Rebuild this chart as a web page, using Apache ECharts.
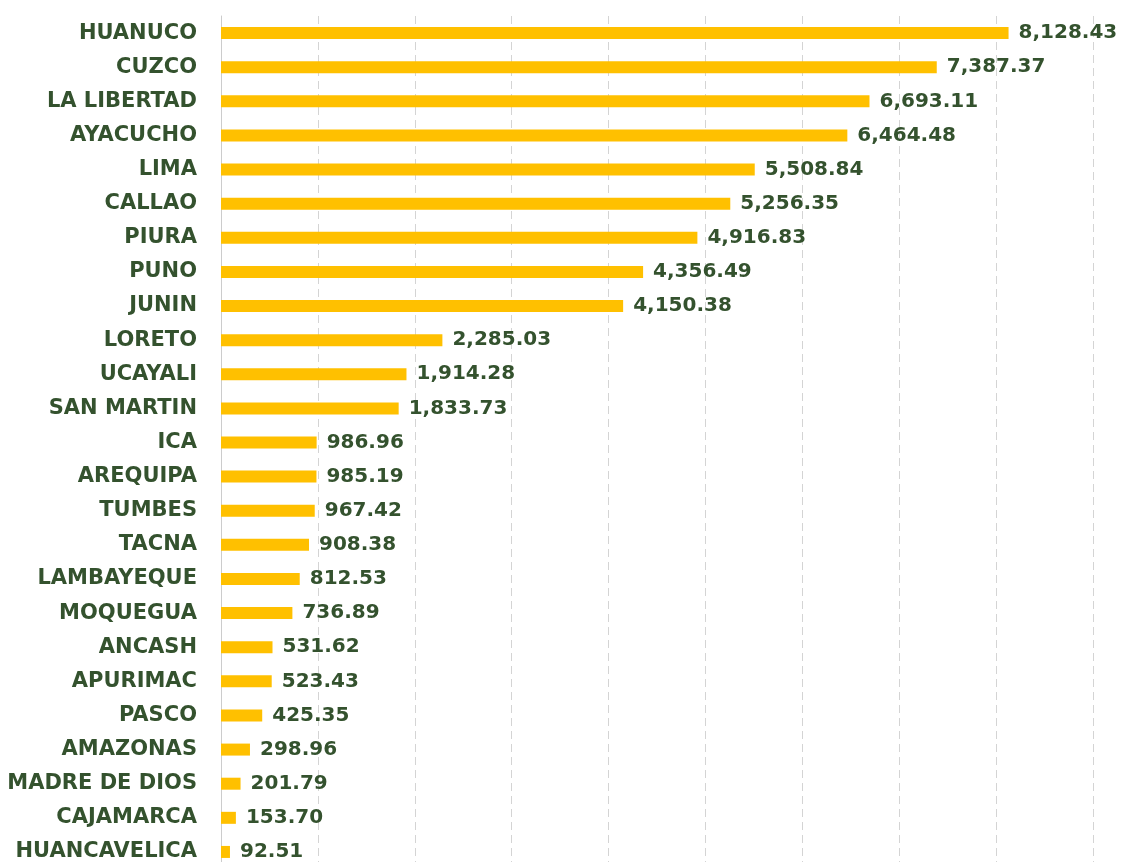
<!DOCTYPE html>
<html>
<head>
<meta charset="utf-8">
<script src="https://cdn.jsdelivr.net/npm/echarts@6/dist/echarts.min.js"></script>
<style>
    html, body { margin: 0; padding: 0; background: #fff; }
    #chart { width: 1125px; height: 862px; }
</style>
</head>
<body>
<div id="chart"></div>
<script>
    // regiones y valores (de arriba hacia abajo)
    var regiones = ['HUANUCO', 'CUZCO', 'LA LIBERTAD', 'AYACUCHO', 'LIMA', 'CALLAO', 'PIURA', 'PUNO', 'JUNIN',
        'LORETO', 'UCAYALI', 'SAN MARTIN', 'ICA', 'AREQUIPA', 'TUMBES', 'TACNA', 'LAMBAYEQUE', 'MOQUEGUA',
        'ANCASH', 'APURIMAC', 'PASCO', 'AMAZONAS', 'MADRE DE DIOS', 'CAJAMARCA', 'HUANCAVELICA'];
    var valores = [8128.43, 7387.37, 6693.11, 6464.48, 5508.84, 5256.35, 4916.83, 4356.49, 4150.38,
        2285.03, 1914.28, 1833.73, 986.96, 985.19, 967.42, 908.38, 812.53, 736.89,
        531.62, 523.43, 425.35, 298.96, 201.79, 153.70, 92.51];
    var ejeMax = 9000;
    var ejeIntervalo = 1000;

    var chart = echarts.init(document.getElementById('chart'));
    var textoColor = '#34522e';

    var option = {
        backgroundColor: '#ffffff',
        animation: false,
        grid: {
            left: 221,
            top: 16,
            width: 872,
            height: 853,
            outerBoundsMode: 'none',
            containLabel: false
        },
        xAxis: {
            type: 'value',
            min: 0,
            max: ejeMax,
            interval: ejeIntervalo,
            axisLabel: { show: false },
            axisLine: { show: false },
            axisTick: { show: false },
            splitLine: {
                show: true,
                lineStyle: { color: '#d4d4d4', type: [8, 5], width: 1 }
            }
        },
        yAxis: {
            type: 'category',
            inverse: true,
            data: regiones,
            axisTick: { show: false },
            axisLine: {
                show: true,
                lineStyle: { color: '#cccccc', width: 1 }
            },
            axisLabel: {
                margin: 24,
                color: textoColor,
                fontFamily: 'DejaVu Sans',
                fontWeight: 'bold',
                fontSize: 21
            }
        },
        series: [
            {
                type: 'bar',
                data: valores,
                barWidth: 12,
                itemStyle: { color: '#FFC000' },
                label: {
                    show: true,
                    position: 'right',
                    distance: 10,
                    color: textoColor,
                    fontFamily: 'DejaVu Sans',
                    fontWeight: 'bold',
                    fontSize: 20,
                    formatter: function (p) {
                        return p.value.toLocaleString('en-US', { minimumFractionDigits: 2, maximumFractionDigits: 2 });
                    }
                }
            }
        ]
    };
    chart.setOption(option);
</script>
</body>
</html>
